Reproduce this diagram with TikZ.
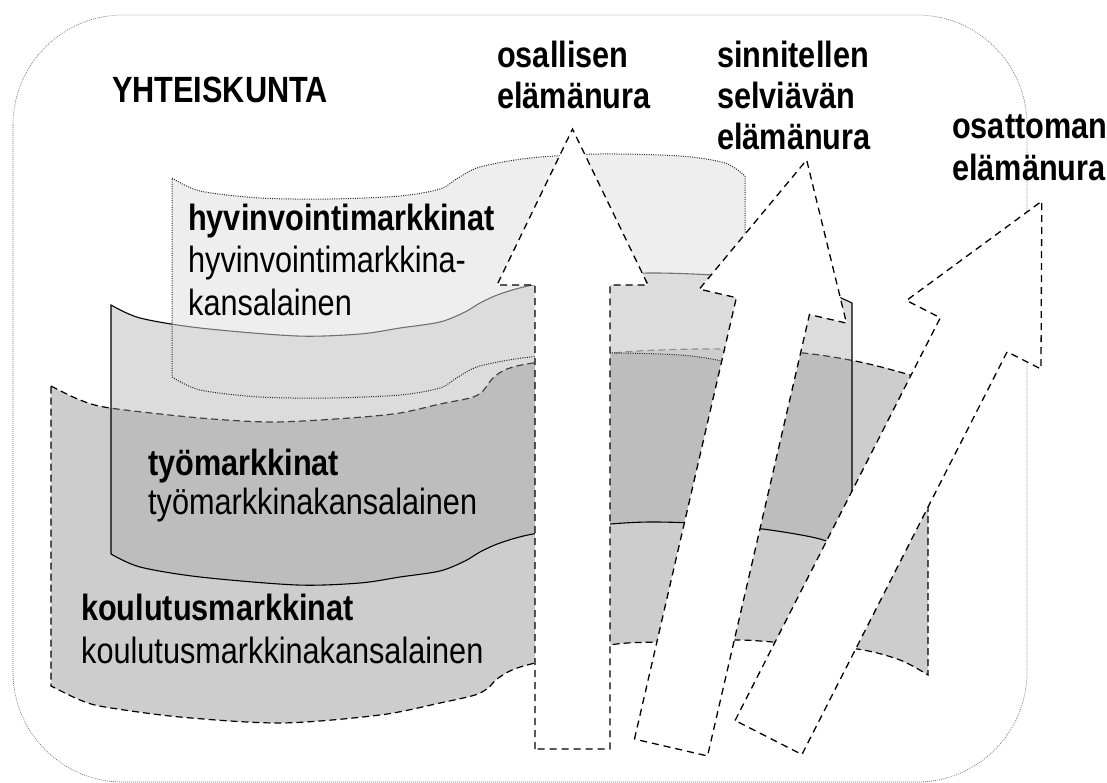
\documentclass[tikz,border=0pt]{standalone}
\usepackage{fontspec}
\setmainfont{Liberation Sans}[FakeStretch=0.84]
\definecolor{lone}{RGB}{205,205,205}
\definecolor{ltwo}{RGB}{167,167,167}
\definecolor{lthree}{RGB}{222,222,222}
\begin{document}
\begin{tikzpicture}[x=1pt,y=-1pt,
  bg/.style={draw=black!60, line width=0.7pt, dash pattern=on 0.8pt off 1.2pt},
  layA/.style={fill=lone, draw=black, line width=1.2pt, dash pattern=on 7pt off 4pt},
  layB/.style={fill=ltwo, fill opacity=0.4, draw=black, draw opacity=1, line width=1.1pt},
  layC/.style={fill=lthree, fill opacity=0.51, draw=black!85, draw opacity=1, line width=1pt, dash pattern=on 1pt off 1.3pt},
  arr/.style={fill=white, draw=black, line width=1.3pt, dash pattern=on 7pt off 5pt},
  lbl/.style={anchor=base west, inner sep=0pt, font=\fontsize{36.5}{40}\selectfont},
  blbl/.style={lbl, font=\fontsize{36.5}{40}\selectfont\bfseries}]
\useasboundingbox (0,0) rectangle (1107,783);
% background
\draw[bg, rounded corners=110pt] (13,15) rectangle (1027,782);
% layer 1 koulutus
\path[layA] plot[smooth, tension=0.5] coordinates {(51,386) (80,400) (110,408) (200,418) (273,422) (350,418) (400,413) (440,404) (470,398) (482,392) (493,378) (507,369) (533,363) (613,353) (660,350) (725,349) (803,353) (860,362) (910,375) (928,383)}
  -- plot[smooth, tension=0.5] coordinates {(928,675) (900,660) (857,649) (773,642) (735,640) (657,642) (610,645) (535,663) (512,670) (497,679) (488,688) (475,695) (440,703) (380,715) (281,723) (180,717) (105,707) (80,700) (51,686)} -- cycle;
% layer 2 tyo
\path[layB] plot[smooth, tension=0.5] coordinates {(111,305) (140,318) (200,328) (297,336) (360,334) (400,328) (440,322) (465,312) (480,303) (500,294) (533,285) (600,276) (650,273) (712,275) (770,281) (820,290) (852,303)}
  -- plot[smooth, tension=0.5] coordinates {(852,552) (820,539) (770,530) (712,524) (650,522) (600,525) (533,534) (500,543) (480,552) (465,561) (440,571) (400,577) (360,583) (297,585) (200,577) (140,567) (111,554)} -- cycle;
% layer 3 hyvinvointi
\path[layC] plot[smooth, tension=0.5] coordinates {(172,178) (200,191) (260,198) (330,199) (400,196) (440,189) (458,178) (480,167) (530,158) (600,154) (680,156) (725,163) (745,176)}
  -- plot[smooth, tension=0.5] coordinates {(745,375) (725,362) (680,355) (600,353) (530,357) (480,366) (458,377) (440,388) (400,395) (330,398) (260,397) (200,390) (172,377)} -- cycle;
% arrows
\begin{scope}[shift={(572.5,749)}]
\draw[arr] (-37.5,0) -- (-37.5,-464) -- (-75.5,-464) -- (0,-620) -- (75.5,-464) -- (37.5,-464) -- (37.5,0) -- cycle;
\end{scope}
\begin{scope}[shift={(671,747.5)}, rotate=-13]
\draw[arr] (-37.5,0) -- (-37.5,-453) -- (-75.5,-453) -- (0,-603) -- (75.5,-453) -- (37.5,-453) -- (37.5,0) -- cycle;
\end{scope}
\begin{scope}[shift={(768.5,737.5)}, rotate=-27]
\draw[arr] (-37.5,0) -- (-37.5,-452) -- (-75.5,-452) -- (0,-602) -- (75.5,-452) -- (37.5,-452) -- (37.5,0) -- cycle;
\end{scope}
% texts
\node[blbl] (yht) at (112,103) {YHTEISKUNTA};
\node[blbl] (os1) at (497,68) {osallisen};
\node[blbl] (os2) at (497,109) {elämänura};
\node[blbl] (si1) at (717,68) {sinnitellen};
\node[blbl] (si2) at (717,109) {selviävän};
\node[blbl] (si3) at (717,150) {elämänura};
\node[blbl] (ot1) at (952,139) {osattoman};
\node[blbl] (ot2) at (952,181) {elämänura};
\node[blbl] (hy1) at (188,231) {hyvinvointimarkkinat};
\node[lbl] (hy2) at (188,273) {hyvinvointimarkkina-};
\node[lbl] (hy3) at (188,315) {kansalainen};
\node[blbl] (ty1) at (148,475) {työmarkkinat};
\node[lbl] (ty2) at (148,514) {työmarkkinakansalainen};
\node[blbl] (ko1) at (81,620) {koulutusmarkkinat};
\node[lbl] (ko2) at (81,663) {koulutusmarkkinakansalainen};
\end{tikzpicture}
\end{document}
